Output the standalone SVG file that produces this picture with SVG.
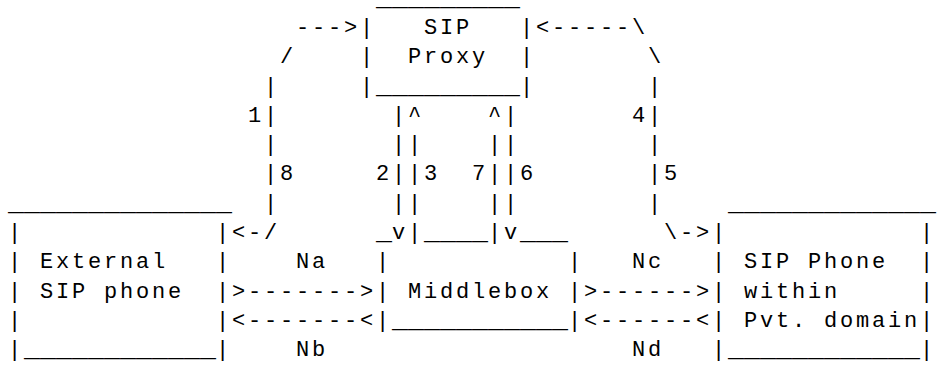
<svg xmlns="http://www.w3.org/2000/svg" width="938" height="372" viewBox="0 0 938 372">
<style>
text{font-family:"Liberation Mono","DejaVu Sans Mono",monospace;font-size:22px;letter-spacing:2.8px;white-space:pre;fill:#000}
.u{font-size:26.67px;letter-spacing:0}
</style>
<rect width="938" height="372" fill="#fff"/>
<g id="sip-proxy">
<text x="376" y="4.7"><tspan class="u">_________</tspan></text>
<text x="360" y="34">|   SIP   |</text>
<text x="360" y="63.3">|  Proxy  |</text>
<text x="360" y="92.6">|<tspan class="u">_________</tspan>|</text>
</g>
<g id="external-sip-phone">
<text x="8" y="209.7"><tspan class="u">______________</tspan></text>
<text x="8" y="239">|            |</text>
<text x="8" y="268.3">| External   |</text>
<text x="8" y="297.6">| SIP phone  |</text>
<text x="8" y="326.9">|            |</text>
<text x="8" y="356.2">|<tspan class="u">____________</tspan>|</text>
</g>
<g id="middlebox">
<text x="376" y="239"><tspan class="u">_</tspan></text>
<text x="424" y="239"><tspan class="u">____</tspan></text>
<text x="520" y="239"><tspan class="u">___</tspan></text>
<text x="376" y="268.3">|           |</text>
<text x="376" y="297.6">| Middlebox |</text>
<text x="376" y="326.9">|<tspan class="u">___________</tspan>|</text>
</g>
<g id="sip-phone-pvt-domain">
<text x="728" y="209.7"><tspan class="u">_____________</tspan></text>
<text x="712" y="239">|            |</text>
<text x="712" y="268.3">| SIP Phone  |</text>
<text x="712" y="297.6">| within     |</text>
<text x="712" y="326.9">| Pvt. domain|</text>
<text x="712" y="356.2">|<tspan class="u">____________</tspan>|</text>
</g>
<g id="connectors">
<text x="296" y="34">---&gt;</text>
<text x="536" y="34">&lt;-----\</text>
<text x="280" y="63.3">/</text>
<text x="648" y="63.3">\</text>
<text x="264" y="92.6">|</text>
<text x="648" y="92.6">|</text>
<text x="248" y="121.9">1|</text>
<text x="392" y="121.9">|^</text>
<text x="488" y="121.9">^|</text>
<text x="632" y="121.9">4|</text>
<text x="264" y="151.2">|</text>
<text x="392" y="151.2">||</text>
<text x="488" y="151.2">||</text>
<text x="648" y="151.2">|</text>
<text x="264" y="180.4">|8</text>
<text x="376" y="180.4">2||3</text>
<text x="472" y="180.4">7||6</text>
<text x="648" y="180.4">|5</text>
<text x="264" y="209.7">|</text>
<text x="392" y="209.7">||</text>
<text x="488" y="209.7">||</text>
<text x="648" y="209.7">|</text>
<text x="232" y="239">&lt;-/</text>
<text x="392" y="239">v|</text>
<text x="488" y="239">|v</text>
<text x="664" y="239">\-&gt;</text>
<text x="296" y="268.3">Na</text>
<text x="632" y="268.3">Nc</text>
<text x="232" y="297.6">&gt;-------&gt;</text>
<text x="584" y="297.6">&gt;------&gt;</text>
<text x="232" y="326.9">&lt;-------&lt;</text>
<text x="584" y="326.9">&lt;------&lt;</text>
<text x="296" y="356.2">Nb</text>
<text x="632" y="356.2">Nd</text>
</g>
</svg>
